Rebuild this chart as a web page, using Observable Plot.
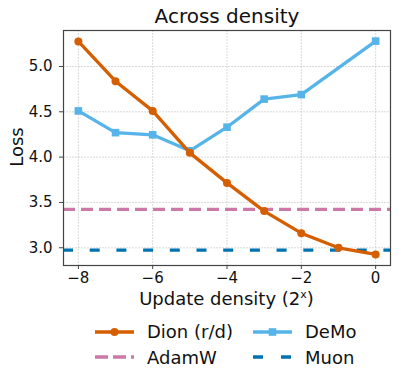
<!DOCTYPE html>
<html>
<head>
<meta charset="utf-8">
<script src="https://cdn.jsdelivr.net/npm/d3@7"></script>
<script src="https://cdn.jsdelivr.net/npm/@observablehq/plot@0.6"></script>
<style>
  body { margin: 0; background: #fff; font-family: "DejaVu Sans", sans-serif; }
  #wrap { position: relative; width: 398px; height: 383px; overflow: hidden; }
  #chart { position: absolute; left: 0; top: 0; }
  .lbl { position: absolute; color: #111; white-space: nowrap; font-family: "DejaVu Sans", sans-serif; }
  #title { left: 0; width: 454px; top: 4px; text-align: center; font-size: 20px; }
  #xlabel { left: 63px; width: 327px; top: 288px; text-align: center; font-size: 18px; }
  #ylabel { left: 16px; top: 147px; font-size: 18px; transform: translate(-50%, -50%) rotate(-90deg); }
  .leg { position: absolute; display: flex; align-items: center; font-size: 18px; color: #111; }
  .leg svg { margin-right: 13px; }
</style>
</head>
<body>
<div id="wrap">
  <div id="chart"></div>
  <div class="lbl" id="title">Across density</div>
  <div class="lbl" id="xlabel">Update density (2<sup style="font-size:11px;">x</sup>)</div>
  <div class="lbl" id="ylabel">Loss</div>
  <div id="legend"></div>
</div>
<script>
const densities = [-8, -7, -6, -5, -4, -3, -2, -1, 0];
const dionLoss = [5.276, 4.838, 4.51, 4.047, 3.716, 3.405, 3.161, 3.0, 2.926];
const demoDensities = [-8, -7, -6, -5, -4, -3, -2, 0];
const demoLoss = [4.51, 4.27, 4.246, 4.07, 4.33, 4.64, 4.69, 5.28];
const adamwLoss = 3.423;
const muonLoss = 2.974;
const xTicks = [-8, -6, -4, -2, 0];
const yTicks = [3.0, 3.5, 4.0, 4.5, 5.0];
const colors = { dion: "#d55e00", demo: "#56b4e9", adamw: "#cc79a7", muon: "#0072b2" };

const dion = densities.map((x, i) => ({ x, y: dionLoss[i] }));
const demo = demoDensities.map((x, i) => ({ x, y: demoLoss[i] }));
const fmtX = d => (d < 0 ? "\u2212" + Math.abs(d) : String(d));

const chart = Plot.plot({
  width: 398,
  height: 310,
  marginLeft: 63,
  marginRight: 8,
  marginTop: 30,
  marginBottom: 45,
  style: { fontFamily: "DejaVu Sans, sans-serif", background: "transparent", color: "#111" },
  x: { domain: [-8.4, 0.4], ticks: xTicks, tickFormat: fmtX, label: null },
  y: { domain: [2.8045, 5.397], ticks: yTicks, tickFormat: d3.format(".1f"), label: null },
  marks: [
    Plot.gridX(xTicks, { stroke: "#b0b0b0", strokeOpacity: 0.6, strokeWidth: 0.8, strokeDasharray: "2,1" }),
    Plot.gridY(yTicks, { stroke: "#b0b0b0", strokeOpacity: 0.6, strokeWidth: 0.8, strokeDasharray: "2,1" }),
    Plot.ruleY([adamwLoss], { stroke: colors.adamw, strokeWidth: 3.3, strokeDasharray: "12,6" }),
    Plot.ruleY([muonLoss], { stroke: colors.muon, strokeWidth: 3.3, strokeDasharray: "10,16.7" }),
    Plot.line(demo, { x: "x", y: "y", stroke: colors.demo, strokeWidth: 3.3 }),
    Plot.dot(demo, { x: "x", y: "y", symbol: "square", r: 4.3, fill: colors.demo, stroke: null }),
    Plot.line(dion, { x: "x", y: "y", stroke: colors.dion, strokeWidth: 3.3 }),
    Plot.dot(dion, { x: "x", y: "y", r: 4, fill: colors.dion, stroke: null }),
    Plot.frame({ stroke: "#444", strokeWidth: 1.2 }),
    Plot.axisX(xTicks, { tickSize: 4, tickPadding: 3, fontSize: 15, stroke: "#444", label: null, tickFormat: fmtX }),
    Plot.axisY(yTicks, { tickSize: 4, tickPadding: 7, fontSize: 15, stroke: "#444", label: null, tickFormat: d3.format(".1f") })
  ]
});
document.getElementById("chart").appendChild(chart);

// Legend
const legendItems = [
  { name: "Dion (r/d)", color: colors.dion, kind: "circle", left: 95, top: 331.5 },
  { name: "DeMo", color: colors.demo, kind: "square", left: 253, top: 331.5 },
  { name: "AdamW", color: colors.adamw, kind: "dashA", left: 95, top: 357 },
  { name: "Muon", color: colors.muon, kind: "dashM", left: 253, top: 357 }
];
const legend = document.getElementById("legend");
for (const it of legendItems) {
  const div = document.createElement("div");
  div.className = "leg";
  div.style.left = it.left + "px";
  div.style.top = (it.top - 12) + "px";
  div.style.height = "24px";
  let inner = "";
  if (it.kind === "circle") {
    inner = `<line x1="0" x2="39" y1="8" y2="8" stroke="${it.color}" stroke-width="3.3"/><circle cx="19.5" cy="8" r="4" fill="${it.color}"/>`;
  } else if (it.kind === "square") {
    inner = `<line x1="0" x2="39" y1="8" y2="8" stroke="${it.color}" stroke-width="3.3"/><rect x="15.7" y="4.2" width="7.6" height="7.6" fill="${it.color}"/>`;
  } else if (it.kind === "dashA") {
    inner = `<line x1="0" x2="39" y1="8" y2="8" stroke="${it.color}" stroke-width="3.3" stroke-dasharray="13,5"/>`;
  } else {
    inner = `<line x1="0" x2="39" y1="8" y2="8" stroke="${it.color}" stroke-width="3.3" stroke-dasharray="10,18"/>`;
  }
  div.innerHTML = `<svg width="39" height="16">${inner}</svg><span>${it.name}</span>`;
  legend.appendChild(div);
}
</script>
</body>
</html>
